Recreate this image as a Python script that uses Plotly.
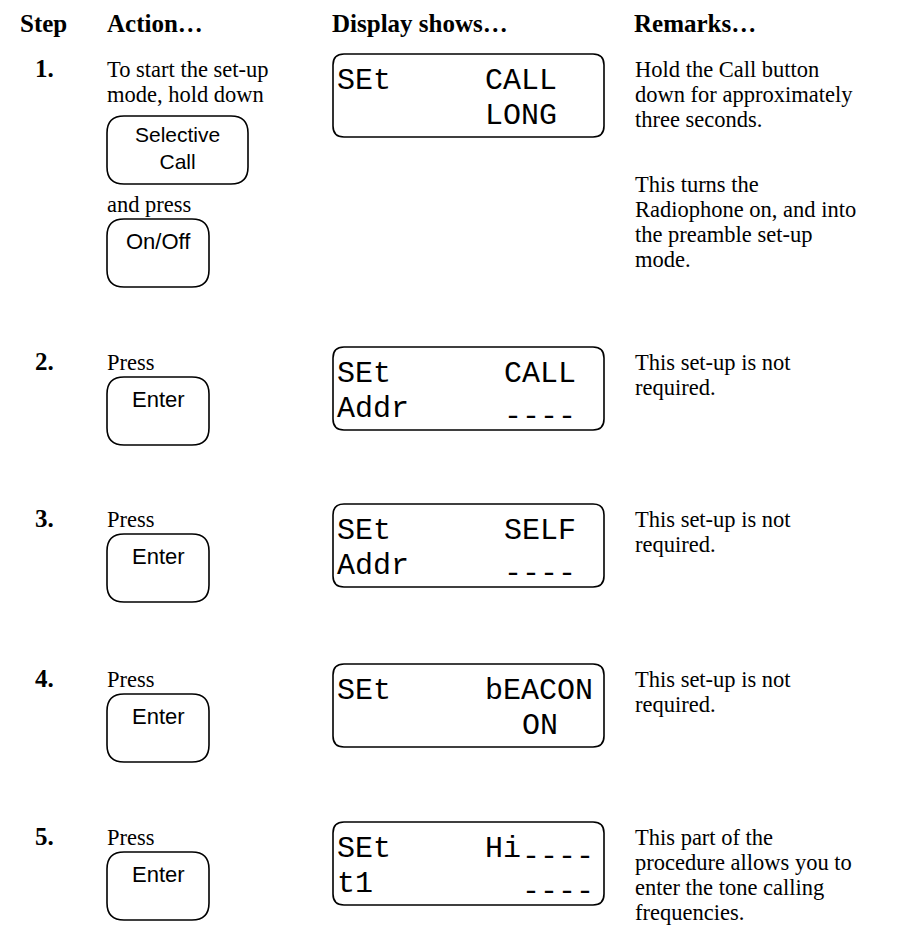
import plotly.graph_objects as go

# ---------------- data ----------------
headers = ["Step", "Action…", "Display shows…", "Remarks…"]
step_numbers = ["1.", "2.", "3.", "4.", "5."]

step1_action = ["To start the set-up", "mode, hold down"]
step1_connector = "and press"
step1_buttons = [["Selective", "Call"], ["On/Off"]]
later_action = "Press"
later_button = ["Enter"]

lcd_top_left = ["SEt", "SEt", "SEt", "SEt", "SEt"]
lcd_top_right = ["CALL", "CALL", "SELF", "bEACON", "Hi"]
lcd_top_tail = ["", "", "", "", "----"]
lcd_bottom_left = ["", "Addr", "Addr", "", "t1"]
lcd_bottom_right = ["LONG", "----", "----", "ON", "----"]

remarks = [
    [["Hold the Call button", "down for approximately", "three seconds."],
     ["This turns the", "Radiophone on, and into", "the preamble set-up", "mode."]],
    [["This set-up is not", "required."]],
    [["This set-up is not", "required."]],
    [["This set-up is not", "required."]],
    [["This part of the", "procedure allows you to", "enter the tone calling", "frequencies."]],
]

# ---------------- layout constants ----------------
W, H = 901, 943
SERIF = "Liberation Serif"
SANS = "Liberation Sans"
MONO = "Liberation Mono"
HEAD = 25
BODY = 22.5
BTN = 22
LCD = 30
LINE = 25
baselines = [77, 370, 527, 687, 845]
header_base = 32
col_step, col_action, col_display, col_remark = 35, 107, 333, 635
header_x = [20, 107, 332, 634]
disp_w, disp_h, disp_r = 271, 83, 11
btn_h, btn_r = 68, 17
lcd_left_x = 337
lcd_cell0, lcd_pitch = 485, 18.5
top_right_cell = [0, 1, 1, 0, 0]
top_tail_cell = [0, 0, 0, 0, 2]
bottom_right_cell = [0, 1, 1, 2, 2]
para2_base = 192

# (ascent, descent) in em
METRIC = {SERIF: (0.891, 0.216), SANS: (0.905, 0.212), MONO: (0.833, 0.300)}

annotations = []
shapes = []


def txt(x, base, s, fam, size, bold=False, anchor="left", lines=1):
    a, d = METRIC[fam]
    off = size * ((a - d) / 2 - 1.3 * (lines - 1) / 2)
    annotations.append(dict(
        x=x, y=base - off, xref="x", yref="y", text=s, showarrow=False,
        xanchor=anchor, yanchor="middle", borderpad=0, borderwidth=0, align="center",
        font=dict(family=fam, size=size, color="black", weight="bold" if bold else "normal"),
    ))


def rrect(x0, y0, x1, y1, r, lw=1.6):
    p = (f"M{x0+r},{y0} L{x1-r},{y0} Q{x1},{y0} {x1},{y0+r} L{x1},{y1-r} "
         f"Q{x1},{y1} {x1-r},{y1} L{x0+r},{y1} Q{x0},{y1} {x0},{y1-r} "
         f"L{x0},{y0+r} Q{x0},{y0} {x0+r},{y0} Z")
    shapes.append(dict(type="path", path=p, xref="x", yref="y",
                       line=dict(color="black", width=lw), fillcolor="rgba(0,0,0,0)"))


def button(x0, y0, w, labels):
    rrect(x0, y0, x0 + w, y0 + btn_h, btn_r)
    cx = x0 + w / 2
    if len(labels) == 1:
        txt(cx, y0 + 30, labels[0], SANS, BTN, anchor="center")
    else:
        txt(cx, y0 + 26, "<br>".join(labels), SANS, 21, anchor="center", lines=len(labels))


def lcd_field(x, base, s):
    if s and set(s) == {"-"}:
        txt(x, base + 8, s, MONO, LCD)
    elif s:
        txt(x, base, s, MONO, LCD)


# headers
for hx, h in zip(header_x, headers):
    txt(hx, header_base, h, SERIF, HEAD, bold=True)

for i, b in enumerate(baselines):
    txt(col_step, b, step_numbers[i], SERIF, HEAD, bold=True)

    # action column
    if i == 0:
        for j, line in enumerate(step1_action):
            txt(col_action, b + j * LINE, line, SERIF, BODY)
        button(col_action, 116, 141, step1_buttons[0])
        txt(col_action, 212, step1_connector, SERIF, BODY)
        button(col_action, 219, 102, step1_buttons[1])
    else:
        txt(col_action, b, later_action, SERIF, BODY)
        button(col_action, b + 7, 102, later_button)

    # display
    top = b - 23
    rrect(col_display, top, col_display + disp_w, top + disp_h, disp_r, lw=1.6)
    r1 = top + 35
    r2 = top + 70
    lcd_field(lcd_left_x, r1, lcd_top_left[i])
    lcd_field(lcd_cell0 + top_right_cell[i] * lcd_pitch, r1, lcd_top_right[i])
    if lcd_top_tail[i]:
        lcd_field(lcd_cell0 + top_tail_cell[i] * lcd_pitch, r1, lcd_top_tail[i])
    lcd_field(lcd_left_x, r2, lcd_bottom_left[i])
    lcd_field(lcd_cell0 + bottom_right_cell[i] * lcd_pitch, r2, lcd_bottom_right[i])

    # remarks
    for p, para in enumerate(remarks[i]):
        start = b if p == 0 else para2_base
        for j, line in enumerate(para):
            txt(col_remark, start + j * LINE, line, SERIF, BODY)

fig = go.Figure(go.Scatter(x=[], y=[], mode="markers", hoverinfo="skip"))
fig.update_layout(
    width=W, height=H, margin=dict(l=0, r=0, t=0, b=0),
    paper_bgcolor="white", plot_bgcolor="white", showlegend=False,
    xaxis=dict(range=[0, W], visible=False, fixedrange=True),
    yaxis=dict(range=[H, 0], visible=False, fixedrange=True),
    annotations=annotations, shapes=shapes,
)
fig.write_html("out.html", config={"displayModeBar": False},
               post_script="document.body.style.margin='0';document.body.style.overflow='hidden';")
